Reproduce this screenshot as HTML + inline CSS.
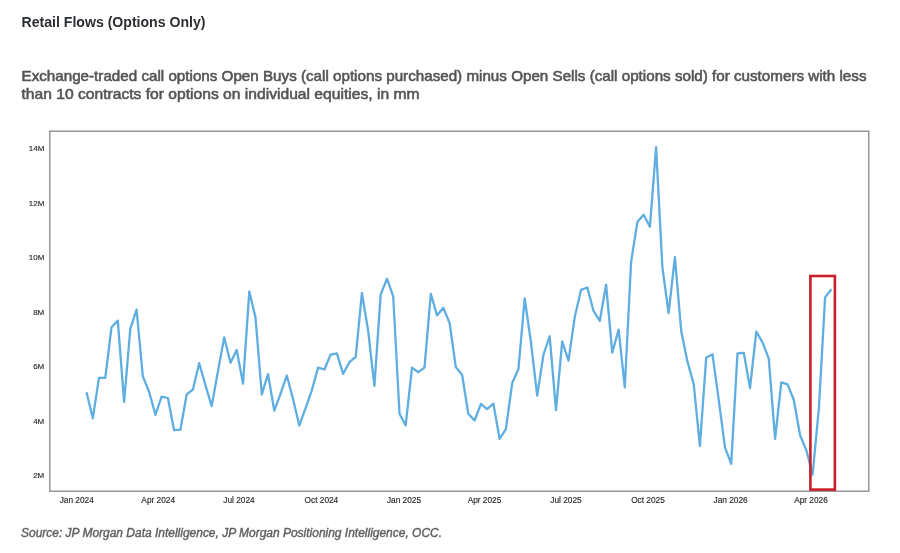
<!DOCTYPE html>
<html><head><meta charset="utf-8"><style>
html,body{margin:0;padding:0;background:#fff;}
body{width:900px;height:553px;overflow:hidden;position:relative;font-family:"Liberation Sans",sans-serif;}
svg{position:absolute;left:0;top:0;will-change:transform;}
</style></head><body>
<svg width="900" height="553" viewBox="0 0 900 553">
<rect x="0" y="0" width="900" height="553" fill="#fff"/>
<text x="21.5" y="26.9" font-family="Liberation Sans" font-weight="bold" font-size="14" fill="#2a2e33" textLength="184" lengthAdjust="spacingAndGlyphs">Retail Flows (Options Only)</text>
<text x="21.5" y="80.7" font-family="Liberation Sans" font-weight="normal" font-size="14.2" fill="#535456" stroke="#535456" stroke-width="0.55" textLength="845" lengthAdjust="spacingAndGlyphs">Exchange-traded call options Open Buys (call options purchased) minus Open Sells (call options sold) for customers with less</text>
<text x="21.5" y="99.3" font-family="Liberation Sans" font-weight="normal" font-size="14.2" fill="#535456" stroke="#535456" stroke-width="0.55" textLength="398" lengthAdjust="spacingAndGlyphs">than 10 contracts for options on individual equities, in mm</text>
<rect x="49.8" y="131.2" width="819" height="360" fill="none" stroke="#8f8f8f" stroke-width="1.4"/>
<g font-family="Liberation Sans" font-size="8" fill="#2a2a2a" stroke="#2a2a2a" stroke-width="0.15"><text x="44.3" y="477.9" text-anchor="end">2M</text><text x="44.3" y="423.5" text-anchor="end">4M</text><text x="44.3" y="369.0" text-anchor="end">6M</text><text x="44.3" y="314.6" text-anchor="end">8M</text><text x="44.3" y="260.1" text-anchor="end">10M</text><text x="44.3" y="205.7" text-anchor="end">12M</text><text x="44.3" y="151.3" text-anchor="end">14M</text></g>
<g font-family="Liberation Sans" font-size="8.3" fill="#2a2a2a" stroke="#2a2a2a" stroke-width="0.15"><text x="76.7" y="502.5" text-anchor="middle">Jan 2024</text><text x="158.2" y="502.5" text-anchor="middle">Apr 2024</text><text x="239" y="502.5" text-anchor="middle">Jul 2024</text><text x="321.4" y="502.5" text-anchor="middle">Oct 2024</text><text x="404" y="502.5" text-anchor="middle">Jan 2025</text><text x="484.5" y="502.5" text-anchor="middle">Apr 2025</text><text x="566" y="502.5" text-anchor="middle">Jul 2025</text><text x="648" y="502.5" text-anchor="middle">Oct 2025</text><text x="730.6" y="502.5" text-anchor="middle">Jan 2026</text><text x="811" y="502.5" text-anchor="middle">Apr 2026</text></g>
<path d="M86.5,392.2 L92.8,418.3 L99.0,377.9 L105.3,377.9 L111.5,327.2 L117.8,320.6 L124.1,402.0 L130.3,328.8 L136.6,309.5 L142.8,376.2 L149.1,391.7 L155.4,414.8 L161.6,396.6 L167.9,398.0 L174.1,430.2 L180.4,429.7 L186.7,394.4 L192.9,389.5 L199.2,363.2 L205.4,385.0 L211.7,406.1 L218.0,370.9 L224.2,337.5 L230.5,362.7 L236.7,350.0 L243.0,383.6 L249.3,291.4 L255.5,317.4 L261.8,394.5 L268.0,374.1 L274.3,410.7 L280.5,393.9 L286.8,375.5 L293.1,399.3 L299.3,425.6 L305.6,408.2 L311.8,390.4 L318.1,367.6 L324.4,369.5 L330.6,354.6 L336.9,353.3 L343.1,373.9 L349.4,362.2 L355.7,356.8 L361.9,293.0 L368.2,331.0 L374.4,385.8 L380.7,294.4 L387.0,278.7 L393.2,296.3 L399.5,413.7 L405.7,425.4 L412.0,367.6 L418.3,372.2 L424.5,367.6 L430.8,293.8 L437.0,315.4 L443.3,307.7 L449.6,323.0 L455.8,367.0 L462.1,374.7 L468.3,413.7 L474.6,420.5 L480.9,403.9 L487.1,409.1 L493.4,403.6 L499.6,438.9 L505.9,429.1 L512.2,383.0 L518.4,369.3 L524.7,298.5 L530.9,341.8 L537.2,395.7 L543.5,354.5 L549.7,336.3 L556.0,410.2 L562.2,341.4 L568.5,360.7 L574.8,316.7 L581.0,289.9 L587.3,287.5 L593.5,310.9 L599.8,320.8 L606.1,284.7 L612.3,352.7 L618.6,329.6 L624.8,387.4 L631.1,262.0 L637.4,221.9 L643.6,214.7 L649.9,226.8 L656.1,147.2 L662.4,267.4 L668.6,313.1 L674.9,257.2 L681.2,331.0 L687.4,361.4 L693.7,384.0 L699.9,446.0 L706.2,357.7 L712.5,354.3 L718.7,399.7 L725.0,447.4 L731.2,463.9 L737.5,353.4 L743.8,352.8 L750.0,388.1 L756.3,331.7 L762.5,342.4 L768.8,358.6 L775.1,438.8 L781.3,382.3 L787.6,384.4 L793.8,400.0 L800.1,435.2 L806.4,450.5 L812.6,474.7 L818.9,408.0 L825.1,297.4 L831.4,289.3" fill="none" stroke="#5eaee2" stroke-width="2.3" stroke-linejoin="round" stroke-linecap="butt"/>
<rect x="810.4" y="276" width="24.5" height="213.6" fill="none" stroke="#c81e28" stroke-width="2.6"/>
<text x="21" y="536.8" font-family="Liberation Sans" font-weight="normal" font-style="italic" font-size="12" fill="#5e5f62" stroke="#5e5f62" stroke-width="0.4" textLength="421" lengthAdjust="spacingAndGlyphs">Source: JP Morgan Data Intelligence, JP Morgan Positioning Intelligence, OCC.</text>
</svg>
</body></html>
